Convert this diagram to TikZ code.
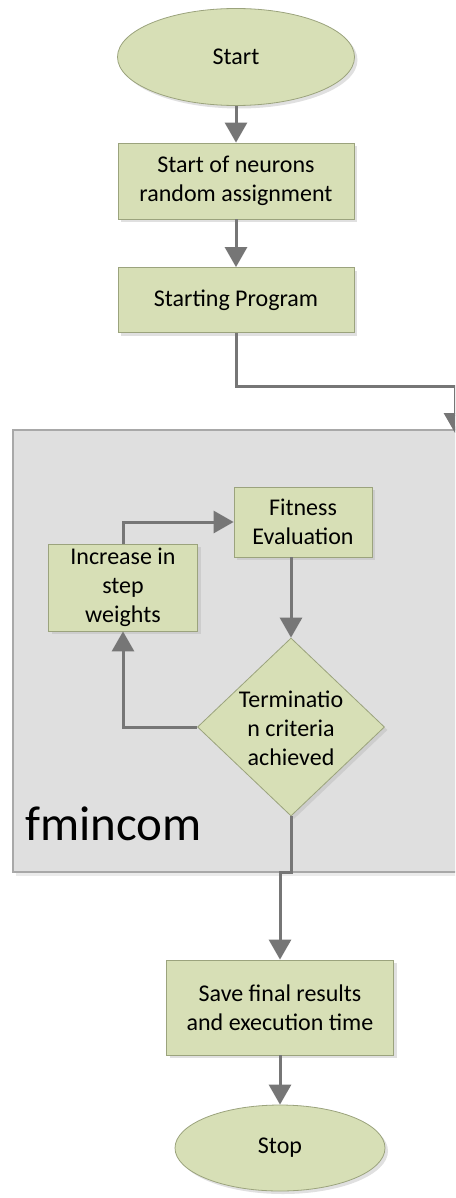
\documentclass[tikz,border=0pt]{standalone}
\usepackage{fontspec}
\setmainfont{Carlito}
\usetikzlibrary{shapes.geometric,arrows.meta,shadows}
\definecolor{boxgreen}{RGB}{215,223,182}
\definecolor{boxedge}{RGB}{155,163,125}
\definecolor{arrowgray}{RGB}{118,118,118}
\definecolor{panelgray}{RGB}{223,223,223}
\definecolor{paneledge}{RGB}{168,168,168}

\begin{document}
\begin{tikzpicture}[x=1pt,y=-1pt,
  every node/.style={font=\fontsize{24}{29}\selectfont,align=center,inner sep=0pt},
  box/.style={rectangle,draw=boxedge,fill=boxgreen,line width=0.8pt,
    drop shadow={shadow xshift=3pt,shadow yshift=-3pt,fill=black!30,opacity=.4}},
  oval/.style={ellipse,draw=boxedge,fill=boxgreen,line width=0.8pt,
    drop shadow={shadow xshift=3pt,shadow yshift=-3pt,fill=black!30,opacity=.4}},
  flow/.style={draw=arrowgray,line width=3pt,-{Triangle[width=22pt,length=20pt]}}]
  \useasboundingbox (0,0) rectangle (455,1198);
  \clip (0,0) rectangle (455,1198);

  \node[oval,minimum width=237,minimum height=97] (start) at (236,57) {Start};
  \node[box,minimum width=236,minimum height=76] (assign) at (236,181) {Start of neurons\\random assignment};
  \node[box,minimum width=236,minimum height=65] (prog) at (236,300) {Starting Program};

  \node[rectangle,draw=paneledge,fill=panelgray,line width=1.5pt,minimum width=467,minimum height=442,
    drop shadow={shadow xshift=3pt,shadow yshift=-4pt,fill=black!20,opacity=.4}] (panel) at (246.5,651) {};
  \node[anchor=base west,font=\fontsize{49}{58}\selectfont] (fmin) at (25,840) {fmincom};

  \node[box,minimum width=138,minimum height=70] (fit) at (303,522) {Fitness\\Evaluation};
  \node[box,minimum width=149,minimum height=87] (inc) at (123,587.5) {Increase in\\step\\weights};
  \node[diamond,draw=boxedge,fill=boxgreen,line width=0.8pt,minimum width=187,minimum height=178,
    drop shadow={shadow xshift=3pt,shadow yshift=-3pt,fill=black!30,opacity=.4}] (term) at (291,727) {};
  \node (termtxt) at (291,728) {Terminatio\\n criteria\\achieved};

  \node[box,minimum width=227,minimum height=95] (save) at (280,1007.5) {Save final results\\and execution time};
  \node[oval,minimum width=210,minimum height=86] (stop) at (280,1148) {Stop};

  \coordinate (c1) at (455,386);
  \coordinate (c2) at (455,433);
  \coordinate (j1) at (291,872);

  \foreach \from/\to in {start/assign,assign/prog,save/stop}
    \draw[flow] (\from) -- (\to);
  \draw[flow] (prog.south) |- (c1) -- (c2);
  \draw[flow] (inc.north) |- (fit.west);
  \draw[flow] (fit.south -| term) -- (term.north);
  \draw[flow] (term.west) -| (inc.south);
  \draw[flow] (term.south) -- (j1) -| (save.north);
\end{tikzpicture}
\end{document}
